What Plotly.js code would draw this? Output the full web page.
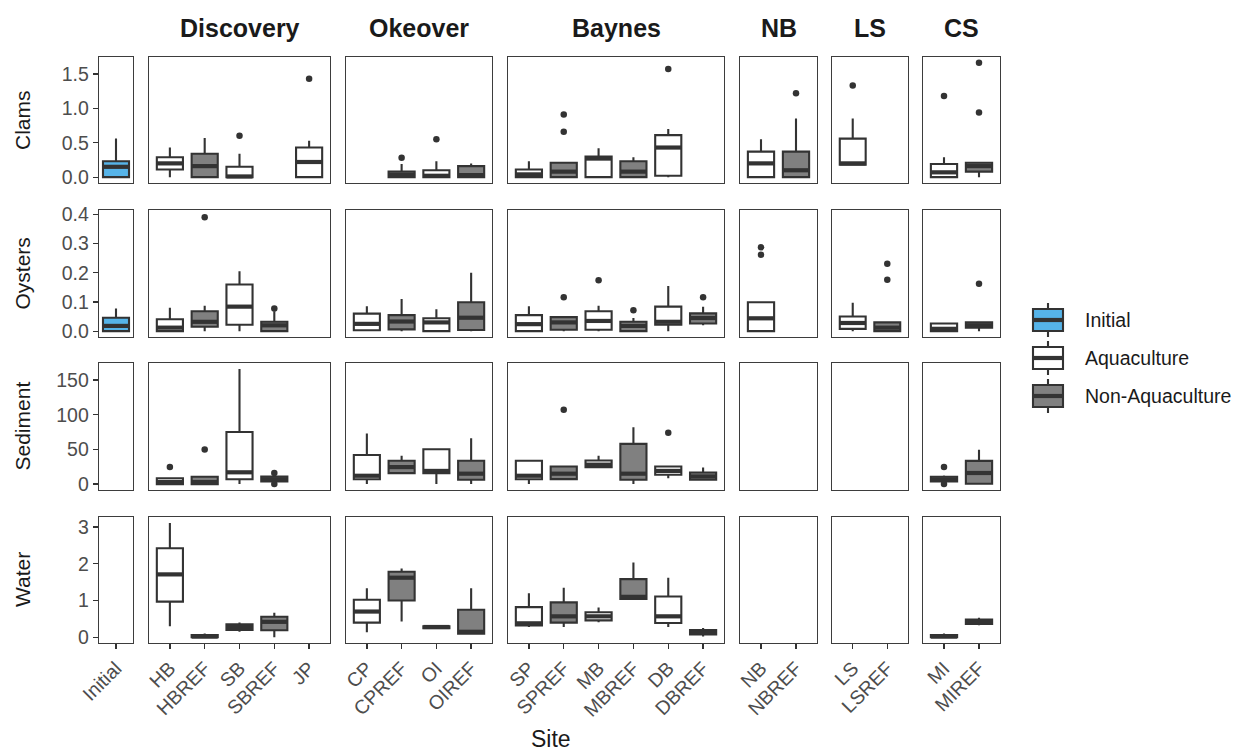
<!DOCTYPE html>
<html><head><meta charset="utf-8">
<script src="https://cdn.plot.ly/plotly-3.0.1.min.js"></script>
<style>html,body{margin:0;padding:0;background:#fff}</style>
</head><body><div id="chart" style="width:1243px;height:754px"></div>
<script>
// ---------------- DATA ----------------
const sites = ['Initial','HB','HBREF','SB','SBREF','JP','CP','CPREF','OI','OIREF','SP','SPREF','MB','MBREF','DB','DBREF','NB','NBREF','LS','LSREF','MI','MIREF'];
const siteRegion = ['Initial','Discovery','Discovery','Discovery','Discovery','Discovery','Okeover','Okeover','Okeover','Okeover','Baynes','Baynes','Baynes','Baynes','Baynes','Baynes','NB','NB','LS','LS','CS','CS'];
const siteType = [0,1,2,1,2,1,1,2,1,2,1,2,1,2,1,2,1,2,1,2,1,2];
const regions = ['Initial','Discovery','Okeover','Baynes','NB','LS','CS'];
const regionTitles = ['','Discovery','Okeover','Baynes','NB','LS','CS'];
const variables = ['Clams','Oysters','Sediment','Water'];
const typeNames = ['Initial','Aquaculture','Non-Aquaculture'];
const typeColors = ['#56B4E9','#FFFFFF','#808080'];

// Clams
const clamsLow  = [0,0,0,0,null,0,null,0,0,0,0,0,0,0,0,null,0,0,0.18,null,0,0];
const clamsQ1   = [0,0.11,0,0,null,0,null,0,0,0,0,0,0,0,0.02,null,0,0,0.18,null,0,0.08];
const clamsMed  = [0.15,0.2,0.16,0.01,null,0.22,null,0.03,0.02,0.03,0.04,0.08,0.27,0.08,0.43,null,0.2,0.1,0.2,null,0.07,0.16];
const clamsQ3   = [0.23,0.29,0.34,0.15,null,0.43,null,0.08,0.1,0.16,0.11,0.21,0.3,0.23,0.61,null,0.37,0.37,0.56,null,0.19,0.21];
const clamsHigh = [0.56,0.43,0.57,0.34,null,0.53,null,0.19,0.23,0.2,0.23,0.21,0.42,0.29,0.7,null,0.55,0.85,0.85,null,0.29,0.21];
const clamsOut  = [[],[],[],[0.6],[],[1.43],[],[0.28],[0.55],[],[],[0.91,0.66],[],[],[1.57],[],[],[1.22],[1.33],[],[1.18],[1.66,0.94]];

// Oysters
const oystersLow  = [0,0,0,0,0,null,0,0,0,0,0,0,0,0,0,0.02,0,null,0,0,0,0];
const oystersQ1   = [0,0,0.015,0.022,0,null,0.003,0.006,0,0.004,0,0.005,0.005,0,0.022,0.026,0,null,0.008,0,0,0.012];
const oystersMed  = [0.018,0.012,0.032,0.084,0.02,null,0.025,0.033,0.03,0.046,0.024,0.03,0.035,0.018,0.032,0.045,0.044,null,0.028,0.012,0.008,0.02];
const oystersQ3   = [0.046,0.041,0.068,0.16,0.032,null,0.06,0.055,0.044,0.099,0.055,0.048,0.068,0.032,0.084,0.061,0.099,null,0.05,0.03,0.026,0.03];
const oystersHigh = [0.078,0.08,0.087,0.205,0.068,null,0.085,0.11,0.075,0.2,0.085,0.048,0.087,0.045,0.155,0.084,0.099,null,0.097,0.03,0.028,0.032];
const oystersOut  = [[],[],[0.39],[],[0.078],[],[],[],[],[],[],[0.116],[0.174],[0.072],[],[0.116],[0.287,0.262],[],[],[0.231,0.176],[],[0.162]];

// Sediment
const sedimentLow  = [null,0,0,0,3,null,0,15.8,0,0,0,7,24,0,8.6,6,null,null,null,null,3,0];
const sedimentQ1   = [null,0,0,7,4,null,7,15.8,15.8,6.2,7,7.2,24.5,6.2,13.5,6.2,null,null,null,null,4,0.5];
const sedimentMed  = [null,3,3,17,7,null,12,24.5,19,15,12,15,28,15,19,11,null,null,null,null,7,16];
const sedimentQ3   = [null,8.5,10.5,75,11,null,42,33.6,50.3,33.6,33.6,25.4,34,58,25.4,16.8,null,null,null,null,10.5,33.5];
const sedimentHigh = [null,8.5,10.5,166,12.5,null,73,40.7,50.3,66,33.6,25.4,40.7,82,25.4,24,null,null,null,null,12.5,49.4];
const sedimentOut  = [[],[24.5],[50],[],[16,0],[],[],[],[],[],[],[107],[],[],[74],[],[],[],[],[],[24.5,0],[]];

// Water
const waterLow  = [null,0.3,0,0.15,0,null,0.14,0.43,0.24,0.1,0.28,0.28,0.41,1.04,0.28,0.02,null,null,null,null,0,0.33];
const waterQ1   = [null,0.97,0,0.2,0.19,null,0.4,1.0,0.25,0.1,0.32,0.4,0.46,1.04,0.39,0.08,null,null,null,null,0,0.36];
const waterMed  = [null,1.71,0.02,0.28,0.42,null,0.7,1.62,0.28,0.15,0.38,0.57,0.57,1.1,0.57,0.14,null,null,null,null,0.02,0.42];
const waterQ3   = [null,2.42,0.06,0.35,0.56,null,1.02,1.78,0.3,0.75,0.82,0.95,0.68,1.58,1.11,0.2,null,null,null,null,0.06,0.48];
const waterHigh = [null,3.11,0.1,0.4,0.67,null,1.33,1.87,0.31,1.33,1.2,1.35,0.81,2.03,1.62,0.25,null,null,null,null,0.1,0.53];
const waterOut  = [[],[],[],[],[],[],[],[],[],[],[],[],[],[],[],[],[],[],[],[],[],[]];

const yTickVals = [[0,0.5,1,1.5],[0,0.1,0.2,0.3,0.4],[0,50,100,150],[0,1,2,3]];
const yTickFmt = ['.1f','.1f','',''];

// ---------------- LAYOUT CONSTANTS ----------------
const W = 1243, H = 754;
const colPx = [[99,133],[149,330],[346,492],[508,724],[740,817],[832,908],[923,1000]];
const rowPx = [[57,183],[210,337],[363,490],[517,643]];
const yRanges = [[-0.085,1.745],[-0.02,0.415],[-8.5,174.5],[-0.155,3.27]];
const FONT = 'Liberation Sans, Arial, sans-serif';
const LINE = '#333333';
const BOXW = 0.75;
const BOXLW = 2.1, MEDLW = 4.2;

const rowStats = [
  {lo: clamsLow, q1: clamsQ1, med: clamsMed, q3: clamsQ3, hi: clamsHigh, out: clamsOut},
  {lo: oystersLow, q1: oystersQ1, med: oystersMed, q3: oystersQ3, hi: oystersHigh, out: oystersOut},
  {lo: sedimentLow, q1: sedimentQ1, med: sedimentMed, q3: sedimentQ3, hi: sedimentHigh, out: sedimentOut},
  {lo: waterLow, q1: waterQ1, med: waterMed, q3: waterQ3, hi: waterHigh, out: waterOut}
];

const traces = [];
const layout = {
  width: W, height: H,
  margin: {l:0, r:0, t:0, b:0},
  paper_bgcolor: '#fff', plot_bgcolor: '#fff',
  showlegend: false,
  font: {family: FONT, color: '#1a1a1a'},
  annotations: [], shapes: []
};

for (let r = 0; r < 4; r++) {
  const st = rowStats[r];
  for (let c = 0; c < 7; c++) {
    const idx = r * 7 + c + 1;
    const sx = idx === 1 ? '' : String(idx);
    const members = [];
    sites.forEach((s, i) => { if (siteRegion[i] === regions[c]) members.push(i); });
    const n = members.length;
    layout['xaxis' + sx] = {
      domain: [colPx[c][0] / W, colPx[c][1] / W],
      anchor: 'y' + sx,
      range: c === 0 ? [-0.49, 0.49] : [-0.6, n - 0.4],
      showline: true, mirror: true, linecolor: '#3d3d3d', linewidth: 1.3,
      showgrid: false, zeroline: false,
      tickmode: 'array',
      tickvals: members.map((m, k) => k),
      ticktext: members.map(m => sites[m]),
      ticks: r === 3 ? 'outside' : '', ticklen: 5, tickwidth: 1.3, tickcolor: LINE,
      showticklabels: r === 3, tickangle: -45,
      tickfont: {family: FONT, size: 19.5, color: '#4d4d4d'},
      fixedrange: true
    };
    layout['yaxis' + sx] = {
      domain: [1 - rowPx[r][1] / H, 1 - rowPx[r][0] / H],
      anchor: 'x' + sx,
      range: yRanges[r],
      showline: true, mirror: true, linecolor: '#3d3d3d', linewidth: 1.3,
      showgrid: false, zeroline: false,
      tickmode: 'array', tickvals: yTickVals[r], tickformat: yTickFmt[r],
      ticks: c === 0 ? 'outside' : '', ticklen: 5, tickwidth: 1.3, tickcolor: LINE,
      showticklabels: c === 0,
      tickfont: {family: FONT, size: 19.5, color: '#4d4d4d'},
      fixedrange: true
    };
    // empty placeholder so every panel is drawn even without data
    traces.push({type: 'scatter', mode: 'markers', x: [null], y: [null],
      xaxis: 'x' + sx, yaxis: 'y' + sx, showlegend: false, hoverinfo: 'skip'});
    const medX = [], medY = [], outX = [], outY = [];
    members.forEach((m, k) => {
      if (st.med[m] === null) return;
      traces.push({
        type: 'box', x: [k],
        q1: [st.q1[m]], median: [st.med[m]], q3: [st.q3[m]],
        lowerfence: [st.lo[m]], upperfence: [st.hi[m]],
        width: BOXW, whiskerwidth: 0, boxpoints: false,
        fillcolor: typeColors[siteType[m]],
        line: {color: LINE, width: BOXLW},
        xaxis: 'x' + sx, yaxis: 'y' + sx,
        showlegend: false, hoverinfo: 'skip'
      });
      medX.push(k - BOXW / 2, k + BOXW / 2, null);
      medY.push(st.med[m], st.med[m], null);
      st.out[m].forEach(v => { outX.push(k); outY.push(v); });
    });
    if (medX.length) {
      traces.push({type: 'scatter', mode: 'lines', x: medX, y: medY,
        line: {color: LINE, width: MEDLW}, xaxis: 'x' + sx, yaxis: 'y' + sx,
        showlegend: false, hoverinfo: 'skip'});
    }
    if (outX.length) {
      traces.push({type: 'scatter', mode: 'markers', x: outX, y: outY,
        marker: {color: LINE, size: 6.5}, xaxis: 'x' + sx, yaxis: 'y' + sx,
        showlegend: false, hoverinfo: 'skip'});
    }
  }
}

// strip titles
regionTitles.forEach((t, c) => {
  if (!t) return;
  layout.annotations.push({
    text: '<b>' + t + '</b>', showarrow: false, xref: 'paper', yref: 'paper',
    x: (colPx[c][0] + colPx[c][1]) / 2 / W, y: 1 - 28 / H,
    xanchor: 'center', yanchor: 'middle',
    font: {family: FONT, size: 25, color: '#1a1a1a'}
  });
});
// row titles
variables.forEach((v, r) => {
  layout.annotations.push({
    text: v, showarrow: false, xref: 'paper', yref: 'paper', textangle: -90,
    x: 22 / W, y: 1 - (rowPx[r][0] + rowPx[r][1]) / 2 / H,
    xanchor: 'center', yanchor: 'middle',
    font: {family: FONT, size: 21, color: '#1a1a1a'}
  });
});
// x title
layout.annotations.push({
  text: 'Site', showarrow: false, xref: 'paper', yref: 'paper',
  x: 551 / W, y: 1 - 739 / H, xanchor: 'center', yanchor: 'middle',
  font: {family: FONT, size: 23, color: '#1a1a1a'}
});

// legend (boxplot glyph keys)
const legCx = 1048, legCy = [320, 358, 396], legHalfW = 15, legHalfH = 11, legWhisk = 17;
typeNames.forEach((name, i) => {
  const cy = legCy[i];
  const px = x => x / W, py = y => 1 - y / H;
  layout.shapes.push({type: 'line', xref: 'paper', yref: 'paper',
    x0: px(legCx), x1: px(legCx), y0: py(cy - legWhisk), y1: py(cy + legWhisk),
    line: {color: LINE, width: BOXLW}});
  layout.shapes.push({type: 'rect', xref: 'paper', yref: 'paper',
    x0: px(legCx - legHalfW), x1: px(legCx + legHalfW), y0: py(cy - legHalfH), y1: py(cy + legHalfH),
    fillcolor: typeColors[i], line: {color: LINE, width: BOXLW}});
  layout.shapes.push({type: 'line', xref: 'paper', yref: 'paper',
    x0: px(legCx - legHalfW), x1: px(legCx + legHalfW), y0: py(cy), y1: py(cy),
    line: {color: LINE, width: MEDLW}});
  layout.annotations.push({text: name, showarrow: false, xref: 'paper', yref: 'paper',
    x: px(1083), y: py(cy), xanchor: 'left', yanchor: 'middle',
    font: {family: FONT, size: 19.5, color: '#1a1a1a'}});
});

Plotly.newPlot('chart', traces, layout, {staticPlot: true, displayModeBar: false});
</script>
</body></html>
